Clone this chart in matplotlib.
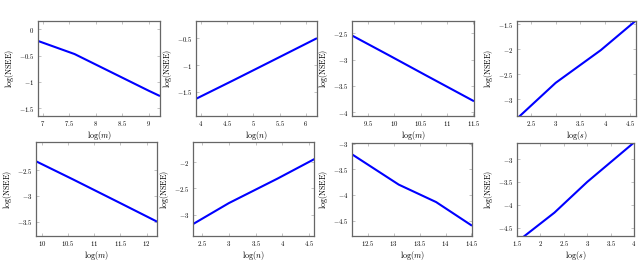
import matplotlib
matplotlib.use("Agg")
import matplotlib.pyplot as plt
from matplotlib.ticker import FuncFormatter

plt.rcParams['mathtext.fontset'] = 'cm'
plt.rcParams['font.family'] = 'serif'
plt.rcParams['font.serif'] = ['DejaVu Serif']

# --- data --- #

x1 = [6.91, 7.60, 8.30, 9.00, 9.21]
y1 = [-0.22, -0.47, -0.82, -1.17, -1.27]

x2 = [3.91, 4.61, 5.30, 6.21]
y2 = [-1.63, -1.29, -0.95, -0.50]

x3 = [9.21, 9.90, 10.60, 11.51]
y3 = [-2.55, -2.92, -3.30, -3.79]

x4 = [2.20, 3.00, 3.91, 4.62]
y4 = [-3.40, -2.67, -2.02, -1.43]

x5 = [9.90, 10.60, 11.50, 12.20]
y5 = [-2.33, -2.68, -3.14, -3.50]

x6 = [2.30, 3.00, 3.91, 4.61]
y6 = [-3.20, -2.78, -2.31, -1.93]

x7 = [12.20, 13.10, 13.82, 14.51]
y7 = [-3.21, -3.80, -4.14, -4.60]

x8 = [1.61, 2.30, 3.00, 4.00]
y8 = [-4.72, -4.17, -3.50, -2.64]

panels = [
    # x, y, xlabel, xticks, yticks, xlim, ylim
    (x1, y1, 'm', [7, 7.5, 8, 8.5, 9], [0, -0.5, -1, -1.5], (6.91, 9.21), (-1.65, 0.16)),
    (x2, y2, 'n', [4, 4.5, 5, 5.5, 6], [-0.5, -1, -1.5], (3.91, 6.21), (-1.95, -0.18)),
    (x3, y3, 'm', [9.5, 10, 10.5, 11, 11.5], [-2.5, -3, -3.5, -4], (9.2, 11.51), (-4.07, -2.27)),
    (x4, y4, 's', [2.5, 3, 3.5, 4, 4.5], [-1.5, -2, -2.5, -3], (2.22, 4.62), (-3.33, -1.44)),
    (x5, y5, 'm', [10, 10.5, 11, 11.5, 12], [-2.5, -3, -3.5], (9.89, 12.2), (-3.78, -1.95)),
    (x6, y6, 'n', [2.5, 3, 3.5, 4, 4.5], [-2, -2.5, -3], (2.33, 4.59), (-3.41, -1.61)),
    (x7, y7, 'm', [12.5, 13, 13.5, 14, 14.5], [-3, -3.5, -4, -4.5], (12.2, 14.51), (-4.8, -2.99)),
    (x8, y8, 's', [1.5, 2, 2.5, 3, 3.5, 4], [-3, -3.5, -4, -4.5], (1.55, 4.0), (-4.68, -2.65)),
]

# axes boxes in pixels: left, right, top, bottom
boxes = [
    (38, 160, 21, 116), (196, 317, 21, 116), (352, 474, 21, 116), (517, 636, 21, 116),
    (36, 157, 142, 236), (193, 314, 142, 236), (352, 472, 143, 236), (517, 634, 143, 236),
]

W, H = 640, 263
fig = plt.figure(figsize=(W / 100, H / 100), dpi=100)

fmt = FuncFormatter(lambda v, p: r'$%g$' % v)

for (x, y, xl, xt, yt, xlim, ylim), (l, r, t, b) in zip(panels, boxes):
    ax = fig.add_axes([l / W, 1 - b / H, (r - l) / W, (b - t) / H])
    ax.plot(x, y, color='#0000ff', lw=1.5, solid_capstyle='butt')
    ax.set_xlim(*xlim)
    ax.set_ylim(*ylim)
    ax.set_xticks(xt)
    ax.set_yticks(yt)
    ax.xaxis.set_major_formatter(fmt)
    ax.yaxis.set_major_formatter(fmt)
    ax.tick_params(direction='in', length=2, width=0.5, color='#aaaaaa',
                   labelsize=4.8, pad=2.5, top=True, right=True)
    ax.tick_params(axis='x', pad=2)
    for s in ax.spines.values():
        s.set_color('#666666')
        s.set_linewidth(0.9)
    ax.set_xlabel(r'$\log(%s)$' % xl, fontsize=5.8, labelpad=1)
    ax.set_ylabel(r'$\log(\mathrm{NSEE})$', fontsize=5.8, labelpad=2)

fig.savefig('out.png', dpi=100)
